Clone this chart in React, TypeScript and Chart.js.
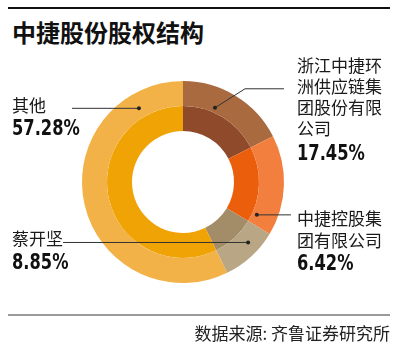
import React, { useEffect, useRef } from "react";
import { Chart, registerables } from "chart.js";

Chart.register(...registerables);

const categories = ["浙江中捷环洲供应链集团股份有限公司", "中捷控股集团有限公司", "蔡开坚", "其他"];
const printedShares = ["17.45%", "6.42%", "8.85%", "57.28%"];
const sliceValues = [17.5, 16.1, 9.2, 57.2];
const outerColors = ["#A96A40", "#F27F3E", "#B8A684", "#F2B247"];
const innerColors = ["#8E4A2B", "#EB5E0C", "#A28D68", "#F0A305"];
// leader dot placement within each slice (fraction of the slice, radius fraction)
const dotFrac = [0.37, 0.88, 0.36, 0.85];
const dotRad = [0.8, 0.8, 0.88, 0.85];

const CJK = '"Noto Sans CJK SC", "Noto Sans", sans-serif';
const NUM = '"DejaVu Sans", sans-serif';

const leaderPlugin = {
  id: "leaders",
  afterDraw(chart: any) {
    const ctx = chart.ctx;
    const meta = chart.getDatasetMeta(0);
    const arcs = meta.data;
    const pts = arcs.map((a: any, i: number) => {
      const p = a.getProps(["x", "y", "startAngle", "endAngle", "outerRadius"], true);
      const ang = p.startAngle + (p.endAngle - p.startAngle) * dotFrac[i];
      const r = p.outerRadius * dotRad[i];
      return { x: p.x + Math.cos(ang) * r, y: p.y + Math.sin(ang) * r };
    });
    ctx.save();
    ctx.strokeStyle = "#333";
    ctx.fillStyle = "#222";
    ctx.lineWidth = 1;
    const line = (coords: number[][]) => {
      ctx.beginPath();
      ctx.moveTo(coords[0][0], coords[0][1]);
      for (let k = 1; k < coords.length; k++) ctx.lineTo(coords[k][0], coords[k][1]);
      ctx.stroke();
    };
    const p0 = pts[0];
    line([[p0.x, p0.y], [p0.x + 30, p0.y - 19], [284, p0.y - 19]]);
    const p1 = pts[1];
    line([[p1.x, p1.y], [291, p1.y]]);
    const p2 = pts[2];
    line([[p2.x, p2.y], [63, p2.y]]);
    const p3 = pts[3];
    line([[p3.x, p3.y], [72, p3.y]]);
    pts.forEach((p: any) => {
      ctx.beginPath();
      ctx.arc(p.x, p.y, 2, 0, Math.PI * 2);
      ctx.fill();
    });
    ctx.restore();
  },
};

export default function App() {
  const ref = useRef<HTMLCanvasElement>(null);
  useEffect(() => {
    if (!ref.current) return;
    const chart = new Chart(ref.current, {
      type: "doughnut",
      data: {
        labels: categories,
        datasets: [
          { data: sliceValues, backgroundColor: outerColors, borderWidth: 0 },
          { data: sliceValues, backgroundColor: innerColors, borderWidth: 0 },
        ],
      },
      options: {
        responsive: false,
        animation: false,
        cutout: "50.5%",
        layout: { padding: { left: 82, right: 116, top: 81, bottom: 74 } },
        plugins: { legend: { display: false }, tooltip: { enabled: false } },
      },
      plugins: [leaderPlugin],
    });
    return () => chart.destroy();
  }, []);

  const txt = (style: React.CSSProperties): React.CSSProperties => ({
    position: "absolute",
    fontFamily: CJK,
    color: "#1a1a1a",
    whiteSpace: "nowrap",
    ...style,
  });
  const num = (style: React.CSSProperties): React.CSSProperties => ({
    position: "absolute",
    fontFamily: NUM,
    fontWeight: 700,
    fontSize: 22,
    lineHeight: "24px",
    color: "#111",
    whiteSpace: "nowrap",
    transform: "scaleX(0.74)",
    transformOrigin: "left center",
    ...style,
  });

  return (
    <div style={{ position: "fixed", left: 0, top: 0, width: 400, height: 357, background: "#fff", overflow: "hidden" }}>
      <div style={{ position: "absolute", left: 8, top: 7, width: 382, height: 2, background: "#111" }} />
      <div style={txt({ left: 12, top: 16, fontSize: 24, fontWeight: 700, lineHeight: "32px", color: "#111" })}>中捷股份股权结构</div>
      <canvas ref={ref} width={400} height={357} style={{ position: "absolute", left: 0, top: 0 }} />
      <div style={txt({ left: 297, top: 54, fontSize: 17, lineHeight: "21px", width: 100, whiteSpace: "normal" })}>
        浙江中捷环<br />洲供应链集<br />团股份有限<br />公司
      </div>
      <div style={num({ left: 297, top: 141 })}>{printedShares[0]}</div>
      <div style={txt({ left: 297, top: 207, fontSize: 17, lineHeight: "22px" })}>
        中捷控股集<br />团有限公司
      </div>
      <div style={num({ left: 297, top: 251 })}>{printedShares[1]}</div>
      <div style={txt({ left: 12, top: 94, fontSize: 17, lineHeight: "22px" })}>{categories[3]}</div>
      <div style={num({ left: 12, top: 116 })}>{printedShares[3]}</div>
      <div style={txt({ left: 12, top: 227, fontSize: 17, lineHeight: "22px" })}>{categories[2]}</div>
      <div style={num({ left: 12, top: 250 })}>{printedShares[2]}</div>
      <div style={{ position: "absolute", left: 8, top: 314, width: 382, height: 2, background: "#9a9a9a" }} />
      <div style={txt({ right: 10, top: 322, fontSize: 17, lineHeight: "22px", color: "#222" })}>数据来源: 齐鲁证券研究所</div>
    </div>
  );
}
